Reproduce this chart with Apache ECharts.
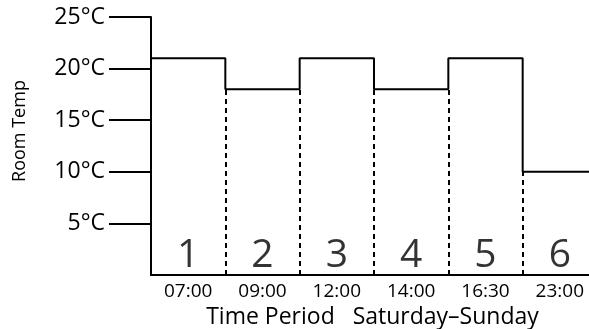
<!DOCTYPE html>
<html>
<head>
<meta charset="utf-8">
<script src="https://cdn.jsdelivr.net/npm/echarts@6/dist/echarts.min.js"></script>
<style>
html,body{margin:0;padding:0;background:#fff;}
#chart{width:589px;height:329px;}
</style>
</head>
<body>
<div id="chart"></div>
<script>
const periodTimes = ['07:00', '09:00', '12:00', '14:00', '16:30', '23:00'];
const periodNumbers = ['1', '2', '3', '4', '5', '6'];
const roomTemps = [21, 18, 21, 18, 21, 10];
const yTicks = [5, 10, 15, 20, 25];
const yTickLabels = ['5°C', '10°C', '15°C', '20°C', '25°C'];

const FONT = 'Open Sans';
const INK = '#000';

// step line points: each period starts at index i
const stepData = roomTemps.map((t, i) => [i, t]);
stepData.push([roomTemps.length, roomTemps[roomTemps.length - 1]]);

// dashed boundaries from axis to the lower level of neighbouring periods
const boundaryLines = [];
for (let i = 1; i < roomTemps.length; i++) {
  const low = Math.min(roomTemps[i - 1], roomTemps[i]);
  boundaryLines.push([{ coord: [i, 0] }, { coord: [i, low] }]);
}

const numberData = periodNumbers.map((n, i) => ({ value: [i + 0.5, 0], name: n }));

const chart = echarts.init(document.getElementById('chart'), null, { renderer: 'canvas' });
chart.setOption({
  animation: false,
  grid: { left: 151, top: 17, width: 446, bottom: 54, containLabel: false, outerBoundsMode: 'none' },
  xAxis: [
    {
      type: 'value', min: 0, max: periodTimes.length, interval: 1,
      show: true,
      axisLine: { show: true, lineStyle: { color: INK, width: 2 } },
      axisTick: { show: false },
      axisLabel: { show: false },
      splitLine: { show: false }
    },
    {
      type: 'category', data: periodTimes, boundaryGap: true,
      position: 'bottom', offset: 0,
      axisLine: { show: false },
      axisTick: { show: false },
      axisLabel: { fontFamily: FONT, fontSize: 19, color: INK, margin: 7 },
      name: 'Time Period   Saturday–Sunday',
      nameLocation: 'middle', nameGap: 30,
      nameTextStyle: { fontFamily: FONT, fontSize: 23, color: INK, padding: [0, 0, 0, -3] }
    }
  ],
  yAxis: {
    type: 'value', min: 0, max: 25, interval: 5,
    axisLine: { show: true, lineStyle: { color: INK, width: 2 } },
    axisTick: { show: true, customValues: yTicks, length: 42, lineStyle: { color: INK, width: 2 } },
    axisLabel: {
      customValues: yTicks,
      formatter: v => yTickLabels[yTicks.indexOf(v)] || '',
      fontFamily: FONT, fontSize: 23, color: INK, margin: 46
    },
    splitLine: { show: false },
    name: 'Room Temp', nameLocation: 'middle', nameGap: 122,
    nameTextStyle: { fontFamily: FONT, fontSize: 18, color: INK, padding: [0, 0, 0, 30] }
  },
  series: [
    {
      type: 'line', xAxisIndex: 0, step: 'end', data: stepData,
      symbol: 'none',
      lineStyle: { color: INK, width: 2 },
      markLine: {
        silent: true, symbol: 'none', label: { show: false },
        lineStyle: { color: INK, width: 2, type: [5, 4] },
        data: boundaryLines
      }
    },
    {
      type: 'scatter', xAxisIndex: 0, data: numberData, symbolSize: 0,
      label: {
        show: true, position: 'top', distance: 0,
        formatter: p => p.name,
        fontFamily: FONT, fontSize: 39, color: INK
      }
    }
  ]
});
</script>
</body>
</html>
